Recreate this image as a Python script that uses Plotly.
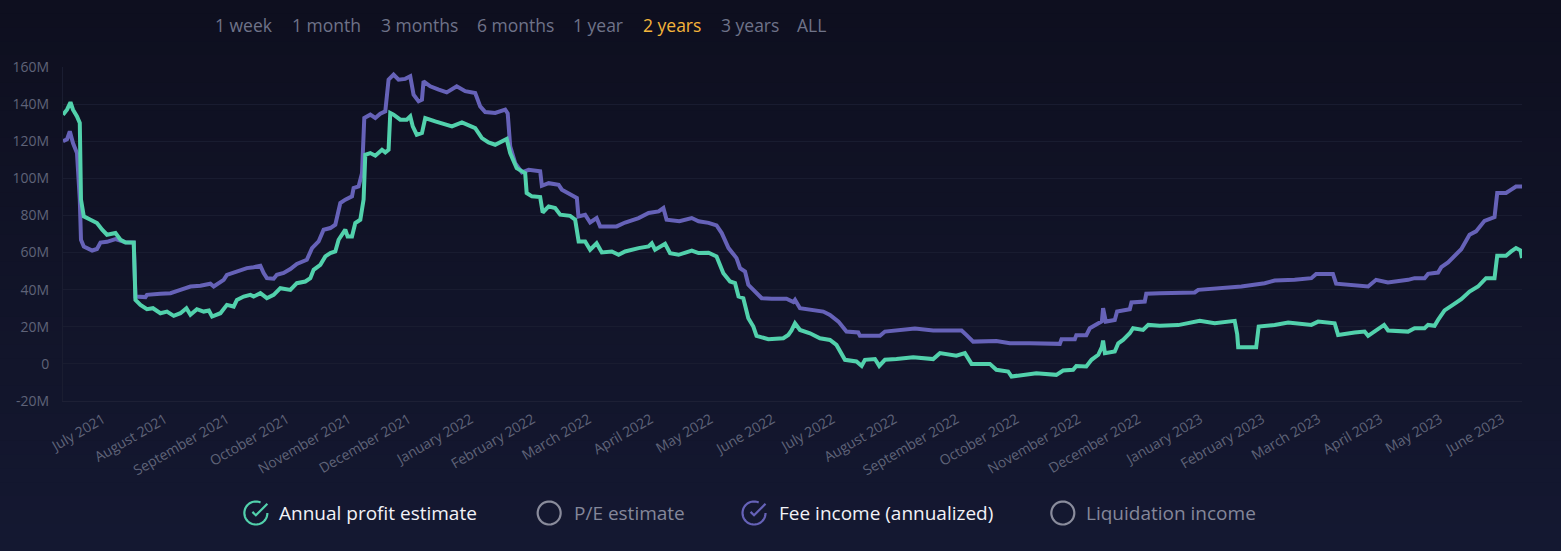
import math
import pandas as pd
import plotly.graph_objects as go

# ---------------- data (values in millions, x = days after START_DATE) ----------------
START_DATE = "2021-06-11"
END_DATE = "2023-06-11"

profit_days = [0, 2, 3.75, 5, 7, 8.4, 9, 10.4, 13.75, 17, 19.6, 22, 26.25, 28.75, 31.25, 35.4, 36.25,
               38.75, 42, 45, 48.75, 52, 55.4, 58.75, 61.75, 63.75, 67, 70.4, 73, 74.6, 78.75, 82, 85.4,
               87, 90.4, 93.75, 95.4, 98.75, 102, 105.4, 108.75, 113.75, 117, 121.25, 123.75, 125.4,
               128.75, 131.25, 133.75, 136.25, 137.9, 141.25, 142.4, 144.6, 146.25, 148.75, 150.4,
               151.25, 153.75, 156.25, 159.6, 161.25, 162.9, 163.75, 165.4, 168.75, 172, 173.75, 175,
               177, 179.6, 181.25, 186.25, 191.25, 194.6, 199.6, 206.25, 209.6, 212.9, 216.25, 219.6,
               222, 223.75, 227, 231.25, 232, 234.6, 238.75, 240, 243, 246.25, 248.75, 253.75, 256.25,
               258, 261.25, 263.75, 267, 269.6, 274.6, 278, 281.25, 288, 293, 294.6, 296.25, 301.25,
               303.75, 308, 314.6, 318, 323, 327, 330.4, 333.75, 336.25, 338, 340.4, 342.9, 345.4, 347,
               352.9, 360.4, 362.9, 364.5, 366.25, 368.75, 373.75, 378.75, 383.75, 387, 391.25, 397,
               399.6, 401.25, 406.25, 408.4, 411.25, 417, 425.4, 435.4, 438.75, 447, 451.25, 454.6,
               463.75, 467, 472.9, 474.6, 480.4, 487, 497, 500.4, 505.4, 507, 512, 514.6, 518, 519.8,
               520.4, 521.3, 526.25, 528, 530.4, 533.75, 535.4, 540.4, 543, 548.75, 558, 568.75, 576.25,
               586.25, 587.5, 588, 597, 598.25, 606.25, 613, 624.6, 628, 636.25, 638, 646.25, 651.25,
               653, 658, 661, 663, 673, 676.25, 681.25, 683, 686.25, 688, 691.25, 695.4, 699.6, 703.75,
               708, 712, 716.25, 717.6, 722, 724.6, 727, 729.25, 730]
profit_values = [134.3, 137, 141, 137, 133.4, 129.8, 88.5, 79.5, 77.7, 75.9, 72.3, 69.6, 70.5, 66.9, 65.4,
                 65.4, 34.5, 31.8, 29.5, 30, 27.3, 28.2, 25.9, 27.3, 30, 26.5, 29.5, 28.2, 28.8, 25.5,
                 27.3, 31.8, 30.9, 34.5, 36.3, 37.2, 36.3, 38.1, 35.4, 37.2, 40.8, 39.9, 43.5, 44.4, 46.2,
                 50.7, 53.4, 57.9, 59.7, 60.6, 66.9, 72.3, 68.7, 68.7, 75.9, 77.7, 88.5, 112.7, 113.6,
                 112.2, 115.4, 114, 115.4, 135.2, 134.3, 131.6, 131.6, 133.4, 128, 123.5, 124.4, 132.5,
                 130.7, 128.9, 128, 130.2, 127.1, 121.7, 119.4, 118.1, 120, 121.2, 113.6, 105.5, 102.8,
                 92.1, 90.3, 89.9, 81.6, 84.9, 84, 80.4, 79.8, 77.7, 66, 66, 61.5, 65, 60.1, 60.6, 58.8,
                 60.6, 62.4, 63.3, 65, 61.5, 64.7, 59.7, 58.8, 61.1, 59.7, 59.9, 57.9, 48.9, 44.4, 43.5,
                 36.3, 35.4, 24.6, 20.1, 15.1, 13.3, 13.8, 15.6, 18, 21.9, 18.3, 16.5, 13.8, 12.9, 10.2,
                 2.2, 1.3, -1.1, 2.2, 2.6, -1.1, 2.2, 2.6, 3.6, 2.6, 5.8, 4.4, 5.8, 0, 0, -3.2, -4.1, -6.8,
                 -5.9, -5, -5.9, -3.6, -3.2, -1.1, -1.4, 2.2, 4.9, 9, 12.6, 5.8, 6.7, 11.1, 12.9, 16.5,
                 19.2, 18.3, 21, 20.5, 20.9, 23.2, 21.9, 23.2, 16, 9, 9, 20.1, 21, 22.3, 21, 22.8, 21.9,
                 15.6, 16.9, 17.4, 15.1, 18.5, 21, 18, 17.4, 19.2, 19.2, 21, 20.5, 23.7, 28.8, 31.8, 34.9,
                 39, 41.7, 46.2, 46.2, 58.3, 58.3, 60.6, 62.4, 61.1, 57]

fee_days = [0, 2, 3.4, 5, 7, 8.4, 9, 10.4, 14.6, 17, 18.75, 22, 26.25, 29, 31.25, 35.4, 36.25, 41.25, 42,
            48.75, 53.75, 58.75, 63.75, 68.75, 73.75, 75.4, 80.4, 82, 87, 90.4, 92, 95.4, 98.75, 100.4,
            102, 105.4, 107, 110.4, 113.75, 117, 122, 124.6, 127.9, 130.4, 133.75, 136.25, 138.75,
            141.25, 144.6, 145.4, 147.9, 149.6, 150.75, 153.75, 156.25, 158.75, 161.25, 162.9, 165.4,
            167.9, 171.25, 173.75, 175.4, 177.9, 179.6, 180.4, 183.75, 188, 192, 197, 201.25, 206.25,
            208.75, 211.25, 216.25, 221.25, 222.5, 223.75, 226.25, 229.6, 233, 238.75, 239.6, 243, 248,
            249.6, 254.6, 257.1, 257.9, 261.25, 263.75, 267, 268.75, 274.6, 277, 281.25, 288, 293, 298,
            300.4, 302, 308.4, 314.6, 318, 323, 327, 329.6, 333, 337, 338.75, 341.25, 342.9, 346.25,
            349.6, 354.6, 362, 365.4, 366.25, 368.75, 375.4, 380.4, 383.75, 388, 392, 397.9, 398.75,
            408.75, 411.25, 418.75, 426.25, 435.4, 449.6, 452.1, 455.4, 467, 473.75, 483.75, 498.75,
            499.6, 506.25, 507, 512, 513.75, 518, 519.8, 520.4, 521.75, 526.25, 527.4, 533.75, 534.6,
            541.25, 542, 548.75, 566.25, 568, 579.6, 589.6, 601.25, 606.25, 616.25, 624.6, 627, 635.4,
            637, 646.25, 653, 657, 662.9, 673, 676.25, 681.25, 683, 688, 689.6, 693, 696.25, 699.6,
            703.75, 707, 711.25, 716.25, 717.6, 722, 724.6, 727, 730]
fee_values = [120, 121, 125.3, 119, 113.6, 88.5, 66.9, 63.3, 61.1, 61.9, 65.4, 65.8, 67.2, 66, 65.6, 65.4,
              36.3, 36, 37.2, 37.8, 38.1, 39.9, 41.7, 42.1, 43.2, 41.7, 45.3, 48, 49.8, 50.7, 51.6, 52.1,
              52.9, 49, 46.2, 45.9, 48, 49, 51.1, 53.9, 56.1, 62.4, 66, 72.3, 73.2, 75, 86.7, 88.5, 90.3,
              94.8, 95.6, 102.8, 132.5, 134.3, 132.5, 134.8, 136.1, 153.2, 155.9, 153.2, 153.6, 155,
              145.1, 141.5, 142.4, 152.3, 149.6, 147.8, 146.3, 149.6, 147, 146, 138.8, 135.7, 135.2,
              137, 135, 117.2, 108.2, 103.2, 104.6, 103.8, 96, 97.4, 96.5, 93.9, 91.2, 89.4, 79.5, 80.4,
              76.2, 78.6, 74.1, 73.8, 74.1, 76.2, 78.6, 81.3, 82.2, 84, 77.7, 76.9, 78.6, 76.9, 76,
              74.6, 70.5, 62.4, 57, 51.6, 49.8, 42.6, 39, 35.4, 35.1, 35.1, 33.3, 34.5, 30, 29.1, 28.2,
              26.4, 22.8, 17.4, 16.9, 15.1, 15.1, 17.4, 18, 19.1, 18, 18, 15.5, 12, 12.3, 11.1, 11.1,
              10.8, 13.3, 13.3, 15.5, 15.5, 19.2, 21.9, 23, 30, 22.8, 23.7, 28.2, 29.5, 33.1, 33.6,
              37.8, 38.1, 38.5, 39.9, 40.8, 41.7, 43.5, 44.9, 45.3, 46.2, 48.5, 48.5, 43.2, 42.6, 41.7,
              45.3, 43.9, 45.3, 46.2, 46.2, 48.5, 49.2, 52.1, 54.7, 57.9, 61.8, 69.6, 71.4, 77.1, 79.1,
              92.1, 92.1, 93.9, 95.6, 95.6]

y_tick_values = [-20, 0, 20, 40, 60, 80, 100, 120, 140, 160]
y_tick_labels = ["-20M", "0", "20M", "40M", "60M", "80M", "100M", "120M", "140M", "160M"]
x_tick_labels = ["July 2021", "August 2021", "September 2021", "October 2021", "November 2021",
                 "December 2021", "January 2022", "February 2022", "March 2022", "April 2022",
                 "May 2022", "June 2022", "July 2022", "August 2022", "September 2022", "October 2022",
                 "November 2022", "December 2022", "January 2023", "February 2023", "March 2023",
                 "April 2023", "May 2023", "June 2023"]
range_buttons = ["1 week", "1 month", "3 months", "6 months", "1 year", "2 years", "3 years", "ALL"]
active_button = "2 years"
legend_items = ["Annual profit estimate", "P/E estimate", "Fee income (annualized)", "Liquidation income"]
legend_active = [True, False, True, False]

# ---------------- styling ----------------
W, H = 1561, 551
ML, MR, MT, MB = 62.5, 38.5, 67, 150
PW, PH = W - ML - MR, H - MT - MB
TEAL = "#52d1ac"
PURPLE = "#6662b8"
FONT = "Open Sans"

start = pd.Timestamp(START_DATE)
profit_x = [start + pd.Timedelta(days=d) for d in profit_days]
fee_x = [start + pd.Timedelta(days=d) for d in fee_days]
x_tick_vals = [pd.to_datetime(t, format="%B %Y") for t in x_tick_labels]


def px2paper(px, py):
    return (px - ML) / PW, (H - MB - py) / PH


fig = go.Figure()
fig.add_trace(go.Scatter(x=fee_x, y=fee_values, mode="lines", name="Fee income (annualized)",
                         line=dict(color=PURPLE, width=4), hoverinfo="skip"))
fig.add_trace(go.Scatter(x=profit_x, y=profit_values, mode="lines", name="Annual profit estimate",
                         line=dict(color=TEAL, width=4), hoverinfo="skip"))

shapes = []
# vertical gradient background
top_c = (14, 15, 31)
bot_c = (20, 24, 49)
n_bands = 40
for i in range(n_bands):
    t = i / (n_bands - 1)
    c = tuple(round(top_c[k] + (bot_c[k] - top_c[k]) * t) for k in range(3))
    y_top_px = H * i / n_bands - (1 if i == 0 else 0)
    y_bot_px = H * (i + 1) / n_bands + 1
    _, yt = px2paper(0, y_top_px)
    _, yb = px2paper(0, y_bot_px)
    x0, _ = px2paper(-1, 0)
    x1, _ = px2paper(W + 1, 0)
    shapes.append(dict(type="rect", xref="paper", yref="paper", x0=x0, x1=x1, y0=yb, y1=yt,
                       fillcolor="rgb(%d,%d,%d)" % c, line=dict(width=0), layer="below"))

annotations = []
# range selector texts
btn_left_px = [213, 290, 378.5, 474.5, 571, 640.5, 718.5, 795.5]
for label, lx in zip(range_buttons, btn_left_px):
    ax, ay = px2paper(lx, 25)
    annotations.append(dict(text=label, x=ax, y=ay, xref="paper", yref="paper", xanchor="left",
                            yanchor="middle", showarrow=False,
                            font=dict(family=FONT, size=17.5,
                                      color="#f5b53b" if label == active_button else "#6f7389")))

# custom legend
legend_icon_px = [255.5, 549, 754, 1063]
legend_text_px = [276.5, 572, 777, 1084.5]
legend_colors = [TEAL, "#8a8c9c", PURPLE, "#8a8c9c"]
ly = 513
r = 11.5
arc = []
for k in range(0, 295, 6):
    a = math.radians(k)
    arc.append((r * math.cos(a), -r * math.sin(a)))
a = math.radians(294)
arc.append((r * math.cos(a), -r * math.sin(a)))
circle_path = "M" + " L".join("%.2f,%.2f" % p for p in arc)
s = r / 10
check_path = "M%.2f,%.2f L%.2f,%.2f L%.2f,%.2f" % (10 * s, 8 * s, 0, -2.01 * s, -3 * s, 0.99 * s)
full_circle = []
for k in range(0, 361, 8):
    a = math.radians(k)
    full_circle.append((r * math.cos(a), r * math.sin(a)))
full_path = "M" + " L".join("%.2f,%.2f" % p for p in full_circle) + " Z"

for label, active, ix, tx, col in zip(legend_items, legend_active, legend_icon_px, legend_text_px, legend_colors):
    axp, ayp = px2paper(ix, ly)
    if active:
        for pth in (circle_path, check_path):
            shapes.append(dict(type="path", xref="paper", yref="paper", xsizemode="pixel",
                               ysizemode="pixel", xanchor=axp, yanchor=ayp, path=pth,
                               line=dict(color=col, width=2.2)))
    else:
        shapes.append(dict(type="path", xref="paper", yref="paper", xsizemode="pixel",
                           ysizemode="pixel", xanchor=axp, yanchor=ayp, path=full_path,
                           line=dict(color=col, width=2.2)))
    tx_p, ty_p = px2paper(tx, ly)
    annotations.append(dict(text=label, x=tx_p, y=ty_p, xref="paper", yref="paper", xanchor="left",
                            yanchor="middle", showarrow=False,
                            font=dict(family=FONT, size=19, color="#f2f2f7" if active else "#84879a")))

fig.update_layout(
    width=W, height=H,
    margin=dict(l=ML, r=MR, t=MT, b=MB),
    paper_bgcolor="#111327",
    plot_bgcolor="rgba(0,0,0,0)",
    showlegend=False,
    shapes=shapes,
    annotations=annotations,
    font=dict(family=FONT, color="#5f6378"),
    xaxis=dict(range=[pd.Timestamp(START_DATE), pd.Timestamp(END_DATE)], tickvals=x_tick_vals,
               ticktext=x_tick_labels, tickangle=-30, showgrid=False, showline=True,
               linecolor="#1d2035", linewidth=1, zeroline=False, ticks="",
               tickfont=dict(family=FONT, size=14, color="#5f6378"), ticklabelstandoff=4),
    yaxis=dict(range=[-20, 160], tickvals=y_tick_values, ticktext=y_tick_labels, showgrid=True,
               gridcolor="#191c30", gridwidth=1, zeroline=False, showline=True, linecolor="#1a1d31",
               ticks="", tickfont=dict(family=FONT, size=14, color="#5f6378"), ticklabelstandoff=10),
)

fig.write_html(
    "out.html",
    config={"displayModeBar": False},
    post_script="document.body.style.margin='0';document.body.style.padding='0';"
                "document.body.style.overflow='hidden';document.body.style.background='#111327';",
)
